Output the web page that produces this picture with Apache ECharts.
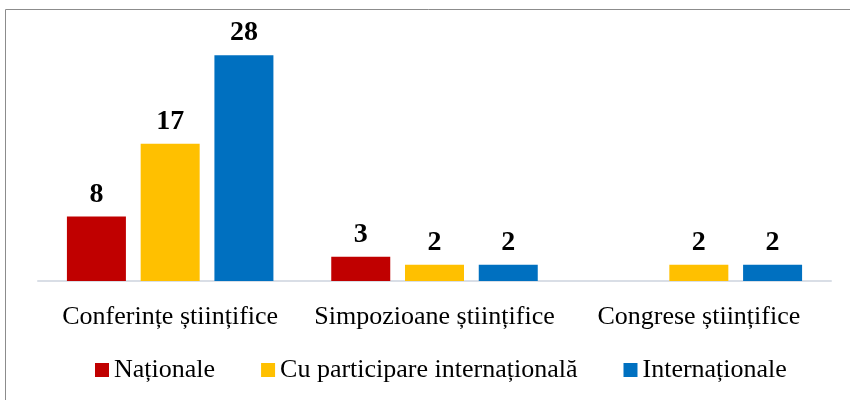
<!DOCTYPE html>
<html><head><meta charset="utf-8">
<script src="https://cdn.jsdelivr.net/npm/echarts@6/dist/echarts.min.js"></script>
<style>html,body{margin:0;padding:0;background:#fff}#c{width:850px;height:400px}</style>
</head><body><div id="c"></div>
<script>
const categories = ['Conferințe științifice', 'Simpozioane științifice', 'Congrese științifice'];
const seriesNames = ['Naționale', 'Cu participare internațională', 'Internaționale'];
const nationale = [8, 3, '-'];
const cuParticipare = [17, 2, 2];
const internationale = [28, 2, 2];
const colors = ['#C00000', '#FFC000', '#0070C0'];
const FONT = '"Liberation Serif", "Times New Roman", serif';

const chart = echarts.init(document.getElementById('c'));
const mk = (name, data, color) => ({
  name, type: 'bar', data, barWidth: 59, barGap: '25%',
  itemStyle: { color },
  label: { show: true, position: 'top', distance: 8, fontFamily: FONT, fontSize: 28, fontWeight: 'bold', color: '#000' }
});
chart.setOption({
  animation: false,
  graphic: [{ type: 'rect', shape: { x: 5.5, y: 9.5, width: 860, height: 400 }, style: { fill: 'none', stroke: '#8c8c8c', lineWidth: 1 } }],
  grid: { left: 38, right: 19, top: 39, bottom: 119 },
  legend: {
    bottom: 12, left: 90, itemWidth: 14, itemHeight: 14, itemGap: 46,
    icon: 'rect',
    textStyle: { fontFamily: FONT, fontSize: 26, color: '#000' },
    data: seriesNames
  },
  xAxis: {
    type: 'category', data: categories,
    axisLine: { lineStyle: { color: '#D9DEE6', width: 2 } },
    axisTick: { show: false },
    axisLabel: { fontFamily: FONT, fontSize: 26, color: '#000', margin: 23, interval: 0 }
  },
  yAxis: { type: 'value', min: 0, max: 30, show: false, splitLine: { show: false } },
  series: [
    mk(seriesNames[0], nationale, colors[0]),
    mk(seriesNames[1], cuParticipare, colors[1]),
    mk(seriesNames[2], internationale, colors[2])
  ]
});
</script></body></html>
